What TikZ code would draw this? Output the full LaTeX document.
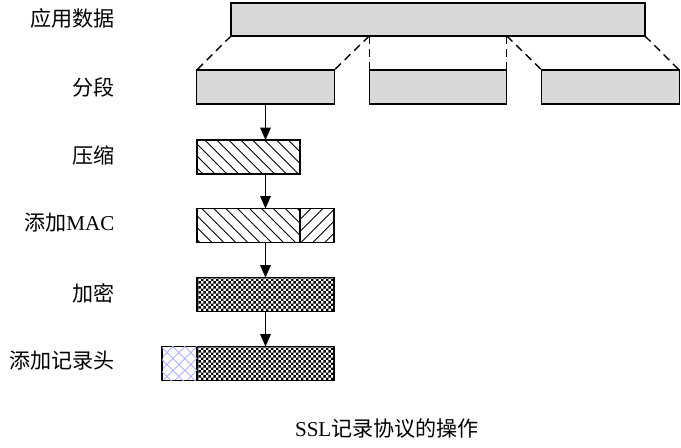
\documentclass[tikz,border=0pt]{standalone}
\usepackage{fontspec}
\setmainfont{Liberation Serif}
\newfontfamily\cjk{Noto Sans CJK SC}
\usetikzlibrary{positioning,patterns,patterns.meta,arrows.meta}

\pgfdeclarepatternformonly{finecheck}{\pgfpointorigin}{\pgfqpoint{2.8pt}{2.8pt}}{\pgfqpoint{2.8pt}{2.8pt}}{%
  \pgfpathrectangle{\pgfpointorigin}{\pgfqpoint{1.4pt}{1.4pt}}%
  \pgfpathrectangle{\pgfqpoint{1.4pt}{1.4pt}}{\pgfqpoint{1.4pt}{1.4pt}}%
  \pgfusepath{fill}}

\begin{document}
\begin{tikzpicture}[x=0.02cm, y=-0.02cm, line width=0.8pt,
  box/.style = {draw, rectangle, inner sep=0pt, outer sep=0pt, minimum height=0.68cm},
  seg/.style = {box, fill=gray!30, minimum width=2.75cm},
  back/.style = {pattern={Lines[angle=-45,distance=4.8pt,line width=0.5pt]}},
  fwd/.style = {pattern={Lines[angle=45,distance=4.8pt,line width=0.5pt]}},
  lab/.style = {anchor=east, font=\fontsize{12}{14}\selectfont},
  link/.style = {dash pattern=on 4.5pt off 3pt},
  flow/.style = {line width=0.7pt, -{Triangle[length=7pt,width=6pt]}}]
\useasboundingbox (0,0) rectangle (681,448);

% labels
\node[lab] (l1) at (121,18) {\cjk 应用数据};
\node[lab] (l2) at (121,87) {\cjk 分段};
\node[lab] (l3) at (121,155) {\cjk 压缩};
\node[lab] (l4) at (121,223) {{\cjk 添加}MAC};
\node[lab] (l5) at (121,293) {\cjk 加密};
\node[lab] (l6) at (121,361) {\cjk 添加记录头};

% data and fragments
\node[box, fill=gray!30, minimum width=8.28cm, minimum height=0.66cm] (data) at (438,19.5) {};
\node[seg] (seg1) at (265.5,87) {};
\node[seg] (seg2) at (438,87) {};
\node[seg] (seg3) at (610.5,87) {};
\draw[link] (data.south west) -- (seg1.north west);
\draw[link] (data.south -| seg2.north west) -- (seg1.north east);
\draw[link] (data.south -| seg2.north west) -- (seg2.north west);
\draw[link] (data.south -| seg2.north east) -- (seg2.north east);
\draw[link] (data.south -| seg2.north east) -- (seg3.north west);
\draw[link] (data.south east) -- (seg3.north east);

% record steps
\node[box, back, minimum width=2.06cm] (comp) at (248.5,157) {};
\node[box, back, minimum width=2.06cm] (mac) at (248.5,225.5) {};
\node[box, fwd, minimum width=0.68cm, right=0pt of mac] (tag) {};
\node[box, pattern=finecheck, minimum width=2.74cm] (enc) at (265.5,294.5) {};
\node[box, pattern=finecheck, minimum width=2.74cm] (rec) at (265.5,363.5) {};
\node[box, fwd, pattern color=blue!30, minimum width=0.7cm, left=0pt of rec,
  postaction={back, pattern color=blue!30}] (hdr) {};

\draw[flow] (seg1.south) -- (seg1.south |- comp.north);
\draw[flow] (seg1.south |- comp.south) -- (seg1.south |- mac.north);
\draw[flow] (seg1.south |- mac.south) -- (enc.north);
\draw[flow] (enc.south) -- (rec.north);

\node[font=\fontsize{12}{14}\selectfont] (cap) at (387,429) {SSL{\cjk 记录协议的操作}};
\end{tikzpicture}
\end{document}
